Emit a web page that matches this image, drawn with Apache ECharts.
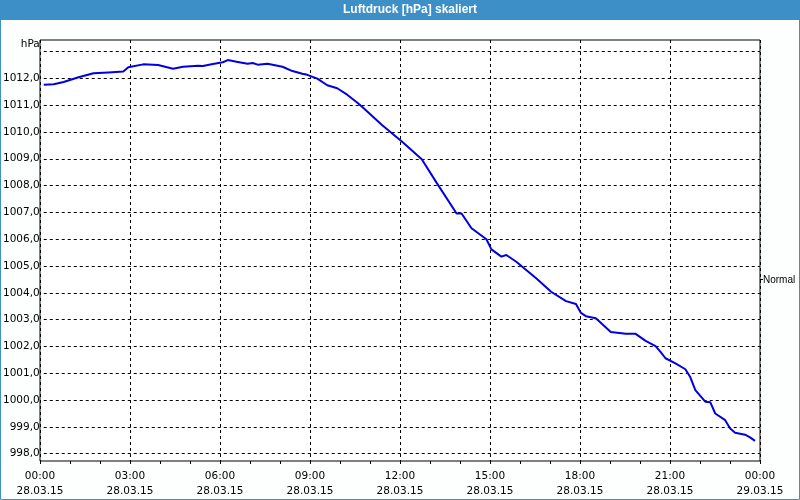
<!DOCTYPE html>
<html>
<head>
<meta charset="utf-8">
<script src="https://cdn.jsdelivr.net/npm/echarts@6/dist/echarts.min.js"></script>
<style>
  html, body { margin: 0; padding: 0; background: #fff; }
  #chart { width: 800px; height: 500px; }
</style>
</head>
<body>
<div id="chart"></div>
<script>
// Messzeitpunkte am 28.03.15 (HH:MM)
const zeiten = [
  '00:00', '00:20', '00:40', '01:10', '01:40', '02:10', '02:40', '02:50', '03:20', '03:50',
  '04:20', '04:40', '05:10', '05:20', '05:40', '06:00', '06:10', '06:30', '06:50', '07:00',
  '07:10', '07:30', '08:00', '08:20', '08:40', '08:50', '09:10', '09:30', '09:50', '10:10',
  '10:30', '10:40', '11:20', '12:00', '12:40', '13:10', '13:50', '14:00', '14:20', '14:50',
  '15:00', '15:20', '15:30', '15:50', '16:10', '16:30', '17:00', '17:30', '17:50', '18:00',
  '18:10', '18:30', '19:00', '19:30', '19:50', '20:10', '20:30', '20:40', '20:50', '21:10',
  '21:30', '21:40', '21:50', '22:10', '22:20', '22:30', '22:50', '23:00', '23:10', '23:30',
  '23:40', '23:50'
];

// Luftdruck in hPa
const druck = [
  1011.76, 1011.78, 1011.86, 1012.04, 1012.19, 1012.22, 1012.25, 1012.41, 1012.52, 1012.50,
  1012.36, 1012.43, 1012.47, 1012.46, 1012.53, 1012.60, 1012.68, 1012.61, 1012.54, 1012.57,
  1012.51, 1012.54, 1012.43, 1012.27, 1012.17, 1012.13, 1011.99, 1011.74, 1011.63, 1011.39,
  1011.10, 1010.94, 1010.26, 1009.64, 1008.98, 1008.10, 1006.96, 1006.96, 1006.41, 1006.00,
  1005.62, 1005.35, 1005.41, 1005.16, 1004.85, 1004.54, 1004.04, 1003.69, 1003.58, 1003.25,
  1003.13, 1003.05, 1002.54, 1002.47, 1002.47, 1002.21, 1002.01, 1001.80, 1001.56, 1001.37,
  1001.15, 1000.85, 1000.37, 999.94, 999.92, 999.50, 999.25, 998.94, 998.78, 998.71,
  998.61, 998.48
];

// Achsenbeschriftung (alle 3 Stunden)
const uhrzeitMarken = ['00:00', '03:00', '06:00', '09:00', '12:00', '15:00', '18:00', '21:00', '00:00'];
const datumMarken = ['28.03.15', '28.03.15', '28.03.15', '28.03.15', '28.03.15', '28.03.15', '28.03.15', '28.03.15', '29.03.15'];

const schrift = '"DejaVu Sans", Verdana, sans-serif';
const blau = '#3c8fc7';

// Zeit "HH:MM" -> Stunden
function inStunden(t) {
  const [h, m] = t.split(':').map(Number);
  return h + m / 60;
}

const punkte = zeiten.map((t, i) => [inStunden(t), druck[i]]);

const chart = echarts.init(document.getElementById('chart'));

const dashed = { show: true, lineStyle: { color: '#000', type: [3, 3], width: 1 } };

const option = {
  animation: false,
  backgroundColor: '#fdfefe',
  grid: [
    // Rahmen + senkrechte Linien + Zeitachse
    { left: 40, right: 40, top: 40, bottom: 39, show: true, borderColor: '#000', borderWidth: 1, backgroundColor: '#fff' },
    // Druckachse mit ganzzahligen Linien
    { left: 40, right: 40, top: 51.5, bottom: 46.3 }
  ],
  xAxis: [
    {
      gridIndex: 0,
      type: 'value',
      min: 0,
      max: 24,
      interval: 3,
      axisLine: { show: false },
      axisTick: { show: true, length: 3, lineStyle: { color: '#000' } },
      minorTick: { show: true, splitNumber: 3, length: 3, lineStyle: { color: '#000' } },
      splitLine: dashed,
      axisLabel: {
        color: '#000',
        fontFamily: schrift,
        fontSize: 10.5,
        lineHeight: 15,
        margin: 8,
        formatter: v => {
          const i = Math.round(v / 3);
          return uhrzeitMarken[i] + '\n' + datumMarken[i];
        }
      }
    },
    { gridIndex: 1, type: 'value', min: 0, max: 24, show: false }
  ],
  yAxis: [
    { gridIndex: 0, type: 'value', min: 997.74, max: 1013.43, show: false },
    {
      gridIndex: 1,
      type: 'value',
      min: 998,
      max: 1013,
      interval: 1,
      name: 'hPa',
      nameLocation: 'end',
      nameGap: 2,
      nameTextStyle: { color: '#000', fontFamily: schrift, fontSize: 10.5, align: 'right', padding: [0, 4, 0, 0] },
      axisLine: { show: false },
      axisTick: { show: false },
      splitLine: dashed,
      axisLabel: {
        color: '#000',
        fontFamily: schrift,
        fontSize: 10.5,
        margin: 4,
        formatter: v => v === 1013 ? '' : v.toFixed(1).replace('.', ',')
      }
    }
  ],
  series: [{
    type: 'line',
    xAxisIndex: 1,
    yAxisIndex: 1,
    data: punkte,
    showSymbol: false,
    lineStyle: { color: '#0000e0', width: 2 },
    z: 5
  }],
  graphic: [
    { type: 'rect', shape: { x: 0, y: 0, width: 800, height: 20 }, style: { fill: blau }, z: 0 },
    {
      type: 'text', x: 410, y: 10,
      style: { text: 'Luftdruck [hPa] skaliert', fill: '#fff', font: 'bold 12px "Liberation Sans", Arial, sans-serif', textAlign: 'center', textVerticalAlign: 'middle' },
      z: 1
    },
    { type: 'rect', shape: { x: 0.5, y: 0.5, width: 799, height: 499 }, style: { fill: null, stroke: blau, lineWidth: 1 }, z: 0 },
    { type: 'line', shape: { x1: 760, y1: 279.5, x2: 763, y2: 279.5 }, style: { stroke: '#000', lineWidth: 1 }, z: 1 },
    {
      type: 'text', x: 763, y: 280,
      style: { text: 'Normal', fill: '#000', font: '10px "Liberation Sans", Arial, sans-serif', textVerticalAlign: 'middle' },
      z: 1
    }
  ]
};

chart.setOption(option);
</script>
</body>
</html>
